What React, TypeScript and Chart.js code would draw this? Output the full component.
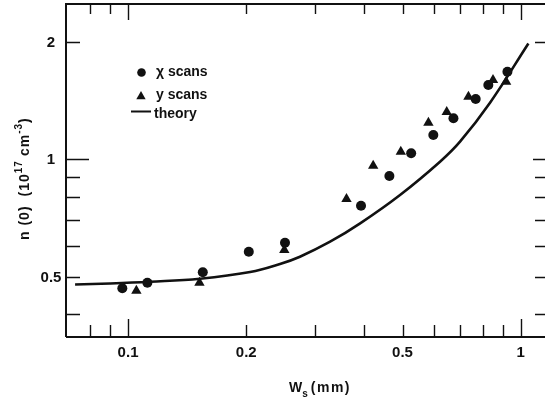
import { useEffect, useRef } from 'react';
import { Chart, registerables } from 'chart.js';

Chart.register(...registerables);

// Measured density n(0) versus source width W_s
const xScanW = [0.0967, 0.112, 0.155, 0.203, 0.251, 0.392, 0.463, 0.526, 0.599, 0.674, 0.768, 0.827, 0.925];
const xScanN = [0.467, 0.482, 0.513, 0.579, 0.611, 0.760, 0.906, 1.036, 1.154, 1.274, 1.428, 1.551, 1.678];
const yScanW = [0.105, 0.152, 0.250, 0.360, 0.421, 0.495, 0.582, 0.648, 0.736, 0.850, 0.918];
const yScanN = [0.460, 0.482, 0.585, 0.791, 0.963, 1.046, 1.241, 1.322, 1.447, 1.598, 1.582];
// Theory curve
const theoryW = [0.0733, 0.09, 0.1138, 0.1525, 0.2046, 0.2438, 0.274, 0.327, 0.390, 0.4928, 0.623, 0.7005, 0.8353, 1.046];
const theoryN = [0.4773, 0.4801, 0.485, 0.4939, 0.5138, 0.5388, 0.5624, 0.6145, 0.685, 0.810, 0.986, 1.110, 1.397, 1.982];

// Axis ranges and ticks
const xRange = [0.0695, 1.153];
const yRange = [0.35, 2.503];
const xMinorTicks = [0.08, 0.09, 0.2, 0.3, 0.4, 0.5, 0.6, 0.7, 0.8, 0.9];
const xMajorTicks = [0.1, 1];
const yMinorTicks = [0.4, 0.5, 0.6, 0.7, 0.8, 0.9, 2];
const yMajorTicks = [1];
const xTickValues = [0.1, 0.2, 0.5, 1];
const xTickLabels = ['0.1', '0.2', '0.5', '1'];
const yTickValues = [0.5, 1, 2];
const yTickLabels = ['0.5', '1', '2'];

const legendLabels = ['χ scans', 'y scans', 'theory'];

const FONT = '"Liberation Sans", Arial, Helvetica, sans-serif';
const INK = '#111';

const pts = (xs: number[], ys: number[]) => xs.map((x, i) => ({ x, y: ys[i] }));

const framePlugin = {
  id: 'frameAndLabels',
  afterDraw(chart: any) {
    const { ctx, chartArea: a, scales } = chart;
    const sx = scales.x;
    const sy = scales.y;
    ctx.save();
    ctx.strokeStyle = INK;
    ctx.fillStyle = INK;

    // frame: left, top, bottom (right edge lies just past the canvas)
    ctx.lineWidth = 2;
    ctx.beginPath();
    ctx.moveTo(a.left, a.bottom);
    ctx.lineTo(a.left, a.top);
    ctx.lineTo(a.right + 2, a.top);
    ctx.moveTo(a.left, a.bottom);
    ctx.lineTo(a.right + 2, a.bottom);
    ctx.stroke();

    // inward ticks
    ctx.lineWidth = 1.4;
    ctx.beginPath();
    const xt = (v: number, len: number, topLen: number) => {
      const px = Math.round(sx.getPixelForValue(v)) + 0.5;
      ctx.moveTo(px, a.bottom);
      ctx.lineTo(px, a.bottom - len);
      ctx.moveTo(px, a.top);
      ctx.lineTo(px, a.top + topLen);
    };
    xMinorTicks.forEach((v) => xt(v, 12, 10));
    xMajorTicks.forEach((v) => xt(v, 18, 16));
    const yt = (v: number, len: number, rLen: number) => {
      const py = Math.round(sy.getPixelForValue(v)) + 0.5;
      ctx.moveTo(a.left, py);
      ctx.lineTo(a.left + len, py);
      ctx.moveTo(a.right, py);
      ctx.lineTo(a.right - rLen, py);
    };
    yMinorTicks.forEach((v) => yt(v, 14, 10));
    yMajorTicks.forEach((v) => yt(v, 23, 12));
    ctx.stroke();

    // tick labels
    ctx.font = `bold 15px ${FONT}`;
    ctx.textAlign = 'center';
    ctx.textBaseline = 'middle';
    xTickValues.forEach((v, i) => {
      ctx.fillText(xTickLabels[i], sx.getPixelForValue(v), a.bottom + 16);
    });
    yTickValues.forEach((v, i) => {
      ctx.fillText(yTickLabels[i], 51, sy.getPixelForValue(v) + 1);
    });

    // x-axis title: W_s (mm)
    ctx.textAlign = 'left';
    ctx.textBaseline = 'alphabetic';
    ctx.font = `bold 14px ${FONT}`;
    let tx = 289;
    const ty = 392;
    ctx.fillText('W', tx, ty);
    tx += ctx.measureText('W').width;
    ctx.font = `bold 10px ${FONT}`;
    ctx.fillText('s', tx, ty + 5);
    tx += ctx.measureText('s').width + 3;
    ctx.font = `bold 14px ${FONT}`;
    (ctx as any).letterSpacing = '1.5px';
    ctx.fillText('(mm)', tx, ty);
    (ctx as any).letterSpacing = '0px';

    // y-axis title: n (0)  (10^17 cm^-3)
    ctx.save();
    ctx.translate(29, 240);
    ctx.rotate(-Math.PI / 2);
    (ctx as any).letterSpacing = '1px';
    let ry = 0;
    const seg = (t: string, size: number, dy: number, gap: number) => {
      ctx.font = `bold ${size}px ${FONT}`;
      ctx.fillText(t, ry, dy);
      ry += ctx.measureText(t).width + gap;
    };
    seg('n (0)', 14, 0, 9);
    seg('(10', 14, 0, 0);
    seg('17', 10, -7, 4);
    seg('cm', 14, 0, 0);
    seg('-3', 10, -7, 0);
    seg(')', 14, 0, 0);
    (ctx as any).letterSpacing = '0px';
    ctx.restore();

    // legend
    ctx.font = `bold 14px ${FONT}`;
    ctx.textBaseline = 'middle';
    ctx.beginPath();
    ctx.arc(141.5, 72.5, 4.3, 0, Math.PI * 2);
    ctx.fill();
    ctx.fillText(legendLabels[0], 156, 72);
    ctx.beginPath();
    const tr = 5.4;
    const cx = 141;
    const cy = 96.5;
    ctx.moveTo(cx, cy - tr);
    ctx.lineTo(cx + tr * 0.866, cy + tr * 0.5);
    ctx.lineTo(cx - tr * 0.866, cy + tr * 0.5);
    ctx.closePath();
    ctx.fill();
    ctx.fillText(legendLabels[1], 156, 95);
    ctx.lineWidth = 2;
    ctx.beginPath();
    ctx.moveTo(131, 111.5);
    ctx.lineTo(151, 111.5);
    ctx.stroke();
    ctx.fillText(legendLabels[2], 154, 114);

    ctx.restore();
  },
};

export default function App() {
  const canvasRef = useRef<HTMLCanvasElement | null>(null);

  useEffect(() => {
    const canvas = canvasRef.current;
    if (!canvas) return;
    const chart = new Chart(canvas, {
      type: 'scatter',
      data: {
        datasets: [
          {
            label: legendLabels[2],
            data: pts(theoryW, theoryN),
            showLine: true,
            borderColor: INK,
            borderWidth: 2.6,
            pointRadius: 0,
            tension: 0.4,
            fill: false,
          },
          {
            label: legendLabels[0],
            data: pts(xScanW, xScanN),
            pointStyle: 'circle',
            pointRadius: 5,
            backgroundColor: INK,
            borderColor: INK,
            borderWidth: 0,
          },
          {
            label: legendLabels[1],
            data: pts(yScanW, yScanN),
            pointStyle: 'triangle',
            pointRadius: 6,
            backgroundColor: INK,
            borderColor: INK,
            borderWidth: 0,
          },
        ],
      },
      options: {
        animation: false,
        responsive: false,
        devicePixelRatio: 1,
        layout: { autoPadding: false, padding: { left: 66, top: 4, right: 0, bottom: 65 } },
        plugins: {
          legend: { display: false },
          tooltip: { enabled: false },
        },
        scales: {
          x: {
            type: 'logarithmic',
            display: false,
            bounds: 'data',
            min: xRange[0],
            max: xRange[1],
          },
          y: {
            type: 'logarithmic',
            display: false,
            bounds: 'data',
            min: yRange[0],
            max: yRange[1],
          },
        },
      },
      plugins: [framePlugin],
    });
    return () => chart.destroy();
  }, []);

  return (
    <div style={{ position: 'absolute', left: 0, top: 0, width: 545, height: 402, background: '#fff' }}>
      <canvas ref={canvasRef} width={545} height={402} />
    </div>
  );
}
